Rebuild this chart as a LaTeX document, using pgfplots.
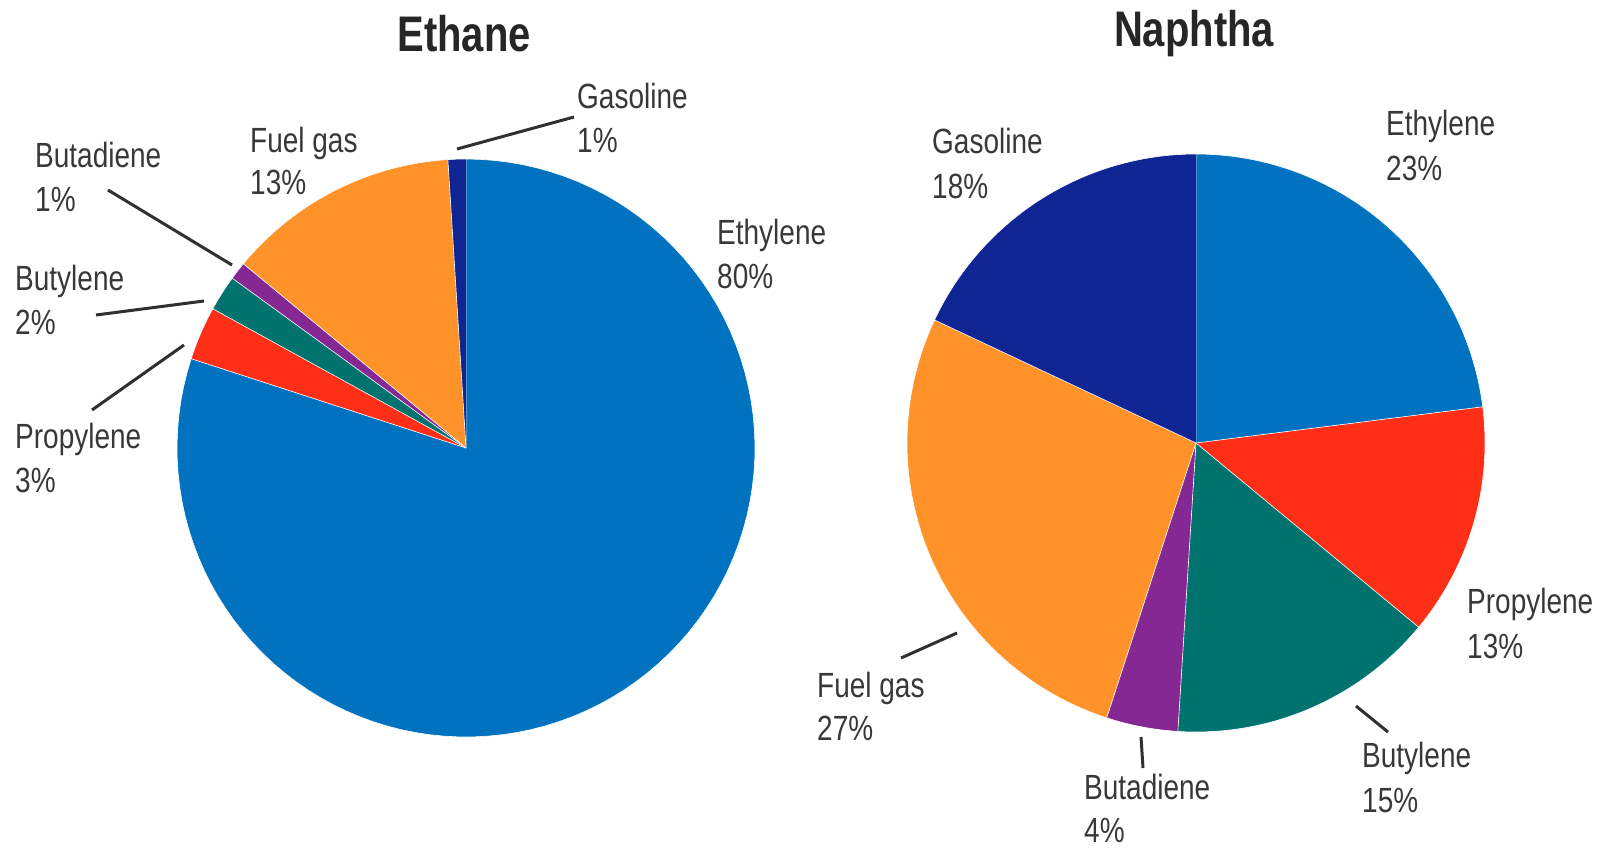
\documentclass[border=0pt]{standalone}
\usepackage{pgfplots}
\pgfplotsset{compat=1.18}
\usepackage{fontspec}
\setmainfont{Liberation Sans}[FakeStretch=0.8]
\definecolor{cEthylene}{HTML}{0072BF}
\definecolor{cPropylene}{HTML}{FF2E17}
\definecolor{cButylene}{HTML}{00736E}
\definecolor{cButadiene}{HTML}{852893}
\definecolor{cFuel}{HTML}{FF9229}
\definecolor{cGasoline}{HTML}{102594}
\definecolor{txt}{HTML}{383838}
\definecolor{ttl}{HTML}{262626}
\definecolor{lead}{HTML}{303030}

% #1 cx, #2 cy, #3 cumulative start (%), #4 share (%), #5 colour
\newcommand\pieslice[5]{%
\addplot[fill=#5, draw=white, line width=0.6pt, samples at={-1,0,1,...,100}, variable=\t]
 ({#1+((\t<0) ? 0 : 289*cos(90-3.6*(#3+#4*\t/100)))},
  {#2-((\t<0) ? 0 : 289*sin(90-3.6*(#3+#4*\t/100)))});
}
\newcommand\lab[5]{%
\node[anchor=base west, inner sep=0pt, text=txt, font=\fontsize{35}{42}\selectfont] at (axis cs:#1,#2) {#4};
\node[anchor=base west, inner sep=0pt, text=txt, font=\fontsize{35}{42}\selectfont] at (axis cs:#1,#3) {#5};
}

\begin{document}
\begin{tikzpicture}
\useasboundingbox (0,0) rectangle (1609pt,849pt);
\begin{axis}[
  at={(0,0)}, anchor=south west,
  x=1pt, y=1pt, y dir=reverse,
  xmin=0, xmax=1609, ymin=0, ymax=849,
  hide axis, clip=false,
]
% ---- Ethane (centre 466,448) ----
\pieslice{466}{448}{0}{80}{cEthylene}
\pieslice{466}{448}{80}{3}{cPropylene}
\pieslice{466}{448}{83}{2}{cButylene}
\pieslice{466}{448}{85}{1}{cButadiene}
\pieslice{466}{448}{86}{13}{cFuel}
\pieslice{466}{448}{99}{1}{cGasoline}
% ---- Naphtha (centre 1196,443) ----
\pieslice{1196}{443}{0}{23}{cEthylene}
\pieslice{1196}{443}{23}{13}{cPropylene}
\pieslice{1196}{443}{36}{15}{cButylene}
\pieslice{1196}{443}{51}{4}{cButadiene}
\pieslice{1196}{443}{55}{27}{cFuel}
\pieslice{1196}{443}{82}{18}{cGasoline}

% leader lines
\addplot[draw=lead, line width=3pt, no marks] coordinates {(457,149) (574,117)};
\addplot[draw=lead, line width=3pt, no marks] coordinates {(108,190) (232,265)};
\addplot[draw=lead, line width=3pt, no marks] coordinates {(96,315) (204,301)};
\addplot[draw=lead, line width=3pt, no marks] coordinates {(92,410) (184,345)};
\addplot[draw=lead, line width=3pt, no marks] coordinates {(901,658) (957,633)};
\addplot[draw=lead, line width=3pt, no marks] coordinates {(1141,737) (1143,768)};
\addplot[draw=lead, line width=3pt, no marks] coordinates {(1356,706) (1388,732)};

% titles
\node[anchor=base, inner sep=0pt, text=ttl, font=\fontsize{50}{60}\selectfont\bfseries] at (axis cs:464,51) {Ethane};
\node[anchor=base, inner sep=0pt, text=ttl, font=\fontsize{50}{60}\selectfont\bfseries] at (axis cs:1194,46) {Naphtha};

% labels Ethane
\lab{577}{108}{152}{Gasoline}{1\%}
\lab{250}{152}{194}{Fuel gas}{13\%}
\lab{35}{167}{211}{Butadiene}{1\%}
\lab{15}{290}{334}{Butylene}{2\%}
\lab{15}{448}{492}{Propylene}{3\%}
\lab{717}{244}{288}{Ethylene}{80\%}
% labels Naphtha
\lab{1386}{135}{180}{Ethylene}{23\%}
\lab{932}{153}{198}{Gasoline}{18\%}
\lab{1467}{613}{658}{Propylene}{13\%}
\lab{817}{697}{740}{Fuel gas}{27\%}
\lab{1084}{799}{842}{Butadiene}{4\%}
\lab{1362}{767}{812}{Butylene}{15\%}
\end{axis}
\end{tikzpicture}
\end{document}
